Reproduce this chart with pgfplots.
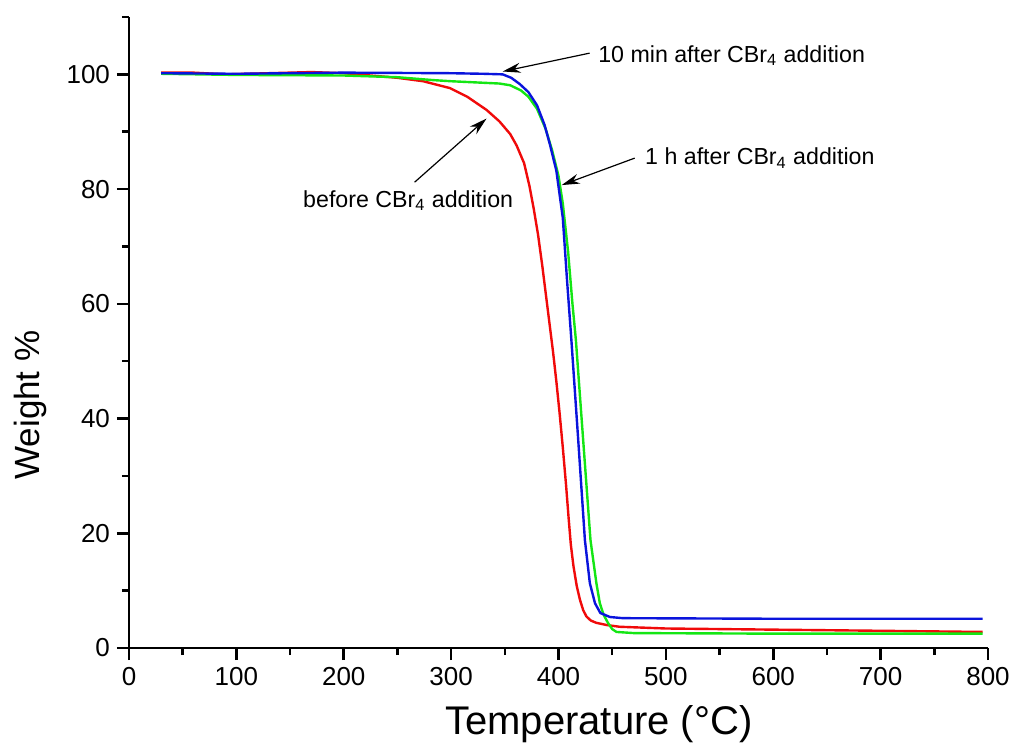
\documentclass[border=0pt]{standalone}
\usepackage{pgfplots}
\pgfplotsset{compat=1.18}
\usepackage{fontspec}
\setmainfont{Liberation Sans}
\usetikzlibrary{arrows.meta}
\definecolor{cred}{RGB}{240,10,10}
\definecolor{cblue}{RGB}{10,20,220}
\definecolor{cgreen}{RGB}{20,230,20}
\newcommand{\cbr}{CBr\textsubscript{4}}
\begin{document}
\begin{tikzpicture}
\begin{axis}[
  scale only axis,
  width=429.5pt, height=315.5pt,
  xmin=0, xmax=800, ymin=0, ymax=110,
  axis x line*=bottom, axis y line*=left,
  axis line style={line width=1.3pt,-},
  every tick/.style={line width=1.3pt,black},
  tick align=outside,
  major tick length=6pt, minor tick length=3.5pt,
  xtick={0,100,...,800}, ytick={0,20,...,100},
  minor xtick={50,150,...,750}, minor ytick={10,30,...,110},
  /pgf/number format/assume math mode=true,
  tick label style={font=\fontsize{13}{15}\selectfont},
  xlabel={Temperature (°C)}, ylabel={Weight \%},
  xlabel style={font=\fontsize{20}{22}\selectfont, at={(axis description cs:0.547,0)}, anchor=center, yshift=-38pt},
  ylabel style={font=\fontsize{17.5}{20}\selectfont, at={(axis description cs:-0.1152,0.385)}, anchor=center, rotate=0},
  clip=false,
]
\addplot[cred, line width=1.2pt] coordinates {
(30,100.3) (60,100.3) (90,100.0) (130,100.2) (170,100.4) (200,100.2) (225,99.8) (250,99.4)
(274,98.8) (299,97.6) (315,96.1) (333,93.8) (345,91.8) (355,89.6) (361,87.6) (368,84.5)
(373,80.5) (377,76.5) (381,72) (385,66.5) (389,60.5) (392,56) (395,51.5) (398,46.5)
(401,41) (404,35) (407,28.5) (409.5,22.5) (411.5,18) (414,14.2) (417,10.8) (420,8.4)
(423,6.6) (426,5.5) (430,4.8) (435,4.4) (445,4.0) (457,3.7) (500,3.4)
(600,3.2) (700,3.0) (795,2.8)};
\addplot[cgreen, line width=1.2pt] coordinates {
(30,100.1) (100,99.9) (200,99.8) (250,99.5) (283,99.0) (300,98.8) (345,98.4) (355,98.1)
(365,97.2) (372,96.1) (380,94.0) (388,90.5) (394,86.8) (400,82.3) (404,77.5) (409,69)
(413,60) (416.2,53.7) (423,36.2) (429.8,18.8) (435.3,11.3) (438.5,7.8) (442,5.8) (446,4.4)
(450,3.3) (454,2.8) (470,2.6) (600,2.5) (795,2.5)};
\addplot[cblue, line width=1.2pt] coordinates {
(30,100.2) (100,100.1) (200,100.3) (300,100.2) (330,100.1) (348,100.0) (356,99.4) (364,98.3)
(372,96.9) (380,94.6) (387,91.2) (392,87.8) (398,83.2) (404,75) (408,64) (412,53.7)
(418.4,36.2) (424.6,18.8) (429.2,11.3) (434,7.8) (439,6.1) (448,5.4) (460,5.2) (600,5.1) (795,5.1)};
\draw[-{Stealth[length=9pt,width=5pt]}, line width=0.6pt] (axis cs:429,103.7) -- (axis cs:348,100.5);
\draw[-{Stealth[length=9pt,width=5pt]}, line width=0.6pt] (axis cs:471,85.4) -- (axis cs:403,80.7);
\draw[-{Stealth[length=9pt,width=5pt]}, line width=0.6pt] (axis cs:266,81.2) -- (axis cs:333,92.3);
\node[anchor=west, font=\fontsize{11.6}{13}\selectfont, inner sep=0pt] at (axis cs:436.7,103.3) {10 min after \cbr{} addition};
\node[anchor=west, font=\fontsize{11.6}{13}\selectfont, inner sep=0pt] at (axis cs:480.4,85.4) {1 h after \cbr{} addition};
\node[anchor=center, font=\fontsize{11.6}{13}\selectfont, inner sep=0pt] at (axis cs:260,78) {before \cbr{} addition};
\coordinate (O) at (rel axis cs:0,0);
\end{axis}
\pgfresetboundingbox
\path (O) ++(-64.5pt,-50.5pt) rectangle ++(506pt,374.5pt);
\end{tikzpicture}
\end{document}
